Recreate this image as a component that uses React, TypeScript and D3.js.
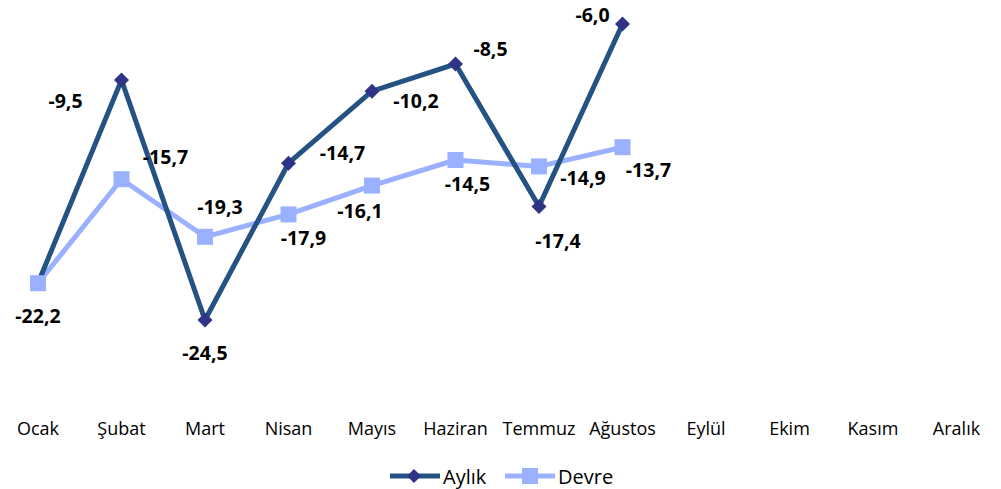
import React from "react";
import * as d3 from "d3";

const months = ["Ocak", "Şubat", "Mart", "Nisan", "Mayıs", "Haziran", "Temmuz", "Ağustos", "Eylül", "Ekim", "Kasım", "Aralık"];
const aylik = [-22.2, -9.5, -24.5, -14.7, -10.2, -8.5, -17.4, -6.0];
const devre = [-22.2, -15.7, -19.3, -17.9, -16.1, -14.5, -14.9, -13.7];

// label offsets (layout only)
const aylikLabelOffsets: [number, number][] = [[0, 32], [-56, 20], [0, 32], [54, -11], [44, 9], [35, -16], [19, 34], [-30, -10]];
const devreLabelOffsets: ([number, number] | null)[] = [null, [44, -23], [15, -30], [15, 23], [-12, 25], [12, 23], [44, 11], [26, 22]];

const W = 1001;
const H = 489;
const FONT = "'Open Sans', 'Noto Sans', sans-serif";
const AYLIK_LINE = "#245282";
const AYLIK_MARK = "#2E3386";
const DEVRE = "#99B1FF";

const fmt = (v: number) => v.toFixed(1).replace(".", ",");

export default function App() {
  const x = d3.scalePoint<string>().domain(months).range([38, 956.5]);
  const y = d3.scaleLinear().domain([-6, -24.5]).range([24, 320]);

  const lineA = d3.line<number>().x((_, i) => x(months[i])!).y((d) => y(d));
  const aPath = lineA(aylik) || "";
  const dPath = lineA(devre) || "";

  const diamond = (cx: number, cy: number, r: number) => `M${cx},${cy - r}L${cx + r},${cy}L${cx},${cy + r}L${cx - r},${cy}Z`;

  return (
    <svg width={W} height={H} style={{ position: "absolute", left: 0, top: 0, background: "#fff" }} fontFamily={FONT}>
      <path d={dPath} fill="none" stroke={DEVRE} strokeWidth={5} strokeLinejoin="round" />
      <path d={aPath} fill="none" stroke={AYLIK_LINE} strokeWidth={5} strokeLinejoin="miter" />
      {aylik.map((v, i) => (
        <path key={"am" + i} d={diamond(x(months[i])!, y(v), 7.5)} fill={AYLIK_MARK} />
      ))}
      {devre.map((v, i) => (
        <rect key={"dm" + i} x={x(months[i])! - 8} y={y(v) - 8} width={16} height={16} fill={DEVRE} />
      ))}
      {aylik.map((v, i) => (
        <text key={"al" + i} x={x(months[i])! + aylikLabelOffsets[i][0]} y={y(v) + aylikLabelOffsets[i][1]} textAnchor="middle" dominantBaseline="central" fontWeight="bold" fontSize={19.5} fill="#000">
          {fmt(v)}
        </text>
      ))}
      {devre.map((v, i) => {
        const o = devreLabelOffsets[i];
        if (!o) return null;
        return (
          <text key={"dl" + i} x={x(months[i])! + o[0]} y={y(v) + o[1]} textAnchor="middle" dominantBaseline="central" fontWeight="bold" fontSize={19.5} fill="#000">
            {fmt(v)}
          </text>
        );
      })}
      {months.map((m) => (
        <text key={m} x={x(m)!} y={428} textAnchor="middle" dominantBaseline="central" fontSize={18} fill="#000">
          {m}
        </text>
      ))}
      {/* legend */}
      <g>
        <line x1={390} x2={440} y1={476} y2={476} stroke={AYLIK_LINE} strokeWidth={5} />
        <path d={diamond(414, 476, 7)} fill={AYLIK_MARK} />
        <text x={443} y={476} dominantBaseline="central" fontSize={20} fill="#000">Aylık</text>
        <line x1={505} x2={555} y1={476} y2={476} stroke={DEVRE} strokeWidth={5} />
        <rect x={522} y={468} width={16} height={16} fill={DEVRE} />
        <text x={558} y={476} dominantBaseline="central" fontSize={20} fill="#000">Devre</text>
      </g>
    </svg>
  );
}
